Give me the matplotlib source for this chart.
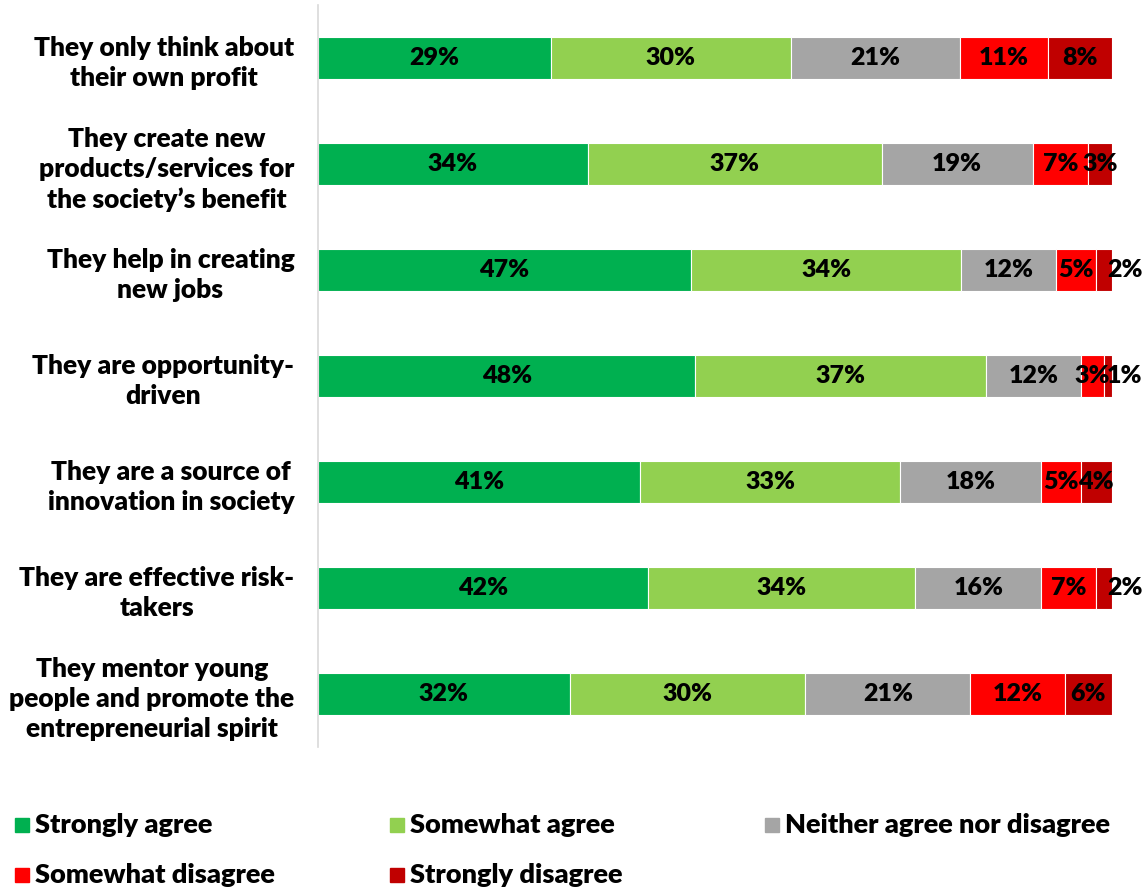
import numpy as np
import matplotlib.pyplot as plt
from matplotlib.patches import Rectangle

plt.rcParams['font.family'] = ['Lato', 'DejaVu Sans']
plt.rcParams['font.weight'] = 'heavy'

statements = [
    "They only think about\ntheir own profit",
    "They create new\nproducts/services for\nthe society\u2019s benefit",
    "They help in creating\nnew jobs",
    "They are opportunity-\ndriven",
    "They are a source of\ninnovation in society",
    "They are effective risk-\ntakers",
    "They mentor young\npeople and promote the\nentrepreneurial spirit",
]

categories = ["Strongly agree", "Somewhat agree", "Neither agree nor disagree",
              "Somewhat disagree", "Strongly disagree"]
colors = ["#00B050", "#92D050", "#A5A5A5", "#FF0000", "#C00000"]

strongly_agree = [29, 34, 47, 48, 41, 42, 32]
somewhat_agree = [30, 37, 34, 37, 33, 34, 30]
neither = [21, 19, 12, 12, 18, 16, 21]
somewhat_disagree = [11, 7, 5, 3, 5, 7, 12]
strongly_disagree = [8, 3, 2, 1, 4, 2, 6]

series = [strongly_agree, somewhat_agree, neither, somewhat_disagree, strongly_disagree]

fig = plt.figure(figsize=(11.46, 8.90), dpi=100)
ax = fig.add_axes([0.2775, 0.1607, 0.6928, 0.8337])

# 100% stacked: each row is scaled to its own total
data = np.array(series, dtype=float)
totals = data.sum(axis=0)
shares = data / totals * 100

y = np.arange(len(statements))
left = np.zeros(len(statements))
last = len(series) - 1
for k, (vals, share, color) in enumerate(zip(data, shares, colors)):
    ax.barh(y, share, left=left, height=0.4, color=color, edgecolor="white", linewidth=0.8)
    for yi, l, w, v in zip(y, left, share, vals):
        if k == last and v <= 2:
            # tiny end segments: label sits just past the bar end
            ax.text(l + w - 0.6, yi, f"{v:.0f}%", ha="left", va="center",
                    fontsize=18, color="black")
        else:
            ax.text(l + w / 2, yi, f"{v:.0f}%", ha="center", va="center",
                    fontsize=18, color="black")
    left += share

ax.set_xlim(0, 100)
ax.set_ylim(len(statements) - 0.5, -0.5)
ax.set_yticks(y)
ax.set_yticklabels(statements, fontsize=19, multialignment="center", linespacing=1.3)
ax.tick_params(axis="y", length=0, pad=17)
ax.set_xticks([])
for side in ["top", "right", "bottom"]:
    ax.spines[side].set_visible(False)
ax.spines["left"].set_color("#D9D9D9")
ax.spines["left"].set_linewidth(1.2)

# legend laid out in rows of three
W, H = fig.get_size_inches() * fig.dpi
for i, (name, color) in enumerate(zip(categories, colors)):
    row, col = divmod(i, 3)
    x0 = (15 + col * 375) / W
    yc = 1 - (825 + row * 50) / H
    fig.patches.append(Rectangle((x0, yc - 7 / H), 14 / W, 14 / H,
                                 transform=fig.transFigure, color=color))
    fig.text(x0 + 20 / W, yc, name, ha="left", va="center", fontsize=19.5)

fig.savefig("out.png", dpi=100)
